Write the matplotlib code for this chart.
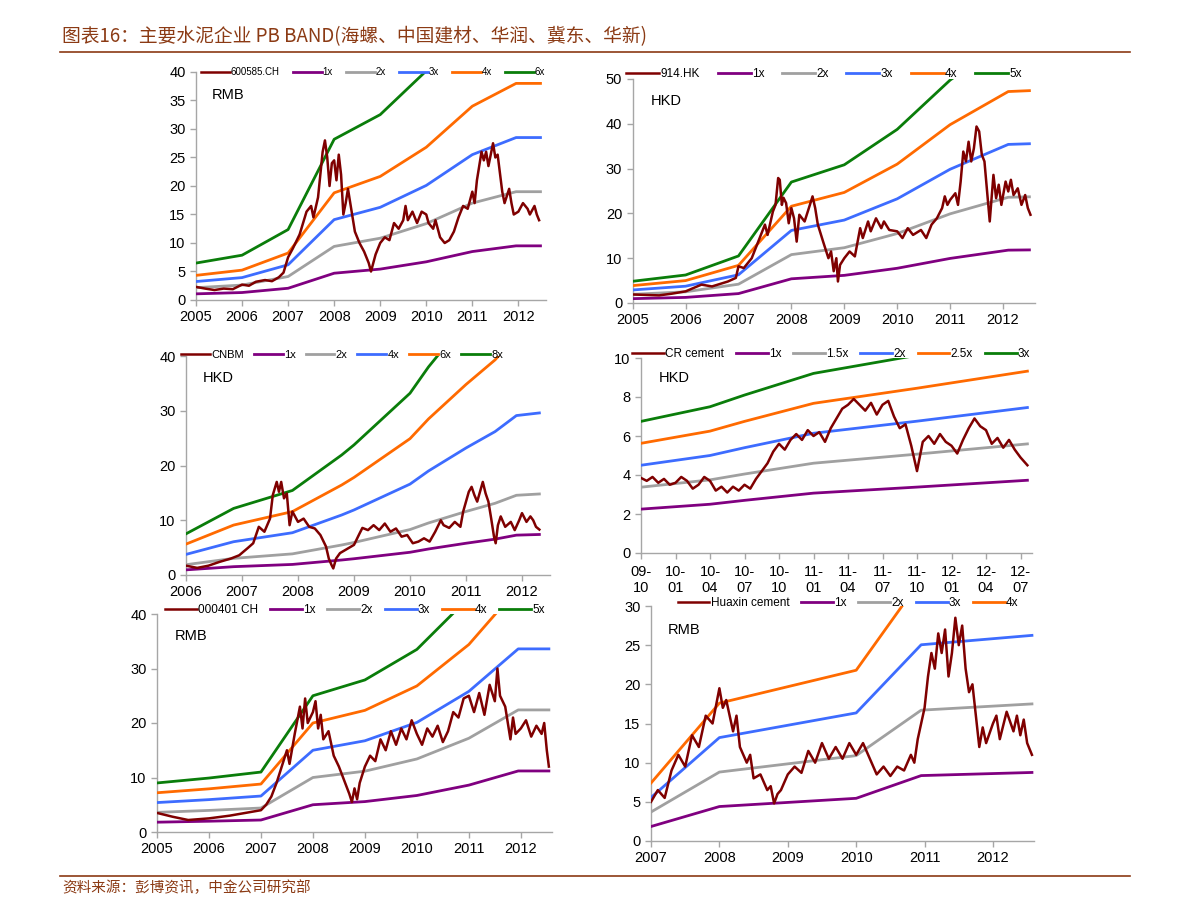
import matplotlib
matplotlib.use("Agg")
import matplotlib.pyplot as plt
import numpy as np

plt.rcParams['font.family'] = ['Liberation Sans', 'Noto Sans CJK SC', 'DejaVu Sans']

W, H = 1191, 915
BROWN = '#8b3a14'
C_PRICE = '#7f0000'
C_BAND = ['#800080', '#a0a0a0', '#3d6cff', '#ff6a00', '#0a7d0a']

title = "图表16：主要水泥企业 PB BAND(海螺、中国建材、华润、冀东、华新)"
source = "资料来源：彭博资讯，中金公司研究部"

# ---- 600585.CH (海螺) ----
conch_bv_t = [2005.0, 2006.0, 2007.0, 2008.0, 2009.0, 2010.0, 2011.0, 2011.95, 2012.48]
conch_bv = [1.08, 1.31, 2.06, 4.7, 5.42, 6.7, 8.5, 9.5, 9.5]
conch_mult = [1, 2, 3, 4, 6]
conch_labels = ['600585.CH', '1x', '2x', '3x', '4x', '6x']
conch_t = [2005.0, 2005.2, 2005.4, 2005.6, 2005.8, 2006.0, 2006.15, 2006.3, 2006.5, 2006.65, 2006.8,
           2006.9, 2007.0, 2007.1, 2007.25, 2007.4, 2007.5, 2007.55, 2007.65, 2007.75, 2007.8, 2007.85,
           2007.9, 2007.95, 2008.0, 2008.05, 2008.1, 2008.15, 2008.2, 2008.25, 2008.3, 2008.35, 2008.45,
           2008.55, 2008.65, 2008.75, 2008.8, 2008.85, 2008.9, 2009.0, 2009.1, 2009.2, 2009.3, 2009.4,
           2009.5, 2009.55, 2009.6, 2009.7, 2009.8, 2009.9, 2010.0, 2010.05, 2010.15, 2010.2, 2010.3,
           2010.4, 2010.5, 2010.6, 2010.7, 2010.8, 2010.9, 2011.0, 2011.05, 2011.1, 2011.2, 2011.25,
           2011.3, 2011.35, 2011.45, 2011.5, 2011.55, 2011.65, 2011.7, 2011.8, 2011.85, 2011.9, 2012.0,
           2012.1, 2012.2, 2012.25, 2012.35, 2012.4, 2012.45]
conch_px = [2.3, 2.0, 1.75, 2.0, 1.9, 2.7, 2.5, 3.2, 3.5, 3.3, 4.0,
            4.8, 7.5, 9.0, 11.5, 15.5, 16.5, 14.5, 18.0, 26.0, 28.0, 25.0,
            20.0, 24.0, 24.5, 21.0, 25.5, 22.0, 15.0, 17.0, 19.5, 17.0, 12.0,
            10.0, 8.5, 6.5, 5.0, 6.5, 8.0, 10.0, 11.0, 10.5, 13.5, 12.5,
            14.0, 16.5, 14.0, 15.5, 13.5, 15.5, 15.0, 13.5, 12.5, 14.0, 11.0,
            10.0, 10.5, 12.0, 14.5, 16.5, 16.0, 19.0, 17.0, 21.0, 26.0, 24.5,
            26.0, 23.5, 27.5, 25.0, 25.5, 19.0, 17.0, 19.5, 17.0, 15.0, 15.5,
            17.0, 16.0, 15.0, 16.5, 15.0, 14.0]

# ---- 914.HK (海螺 H) ----
conch_h_bv_t = [2005.0, 2006.0, 2007.0, 2008.0, 2009.0, 2010.0, 2011.0, 2012.1, 2012.5]
conch_h_bv = [0.97, 1.25, 2.1, 5.4, 6.17, 7.75, 9.95, 11.8, 11.85]
conch_h_mult = [1, 2, 3, 4, 5]
conch_h_labels = ['914.HK', '1x', '2x', '3x', '4x', '5x']
conch_h_t = [2005.0, 2005.25, 2005.5, 2005.75, 2006.0, 2006.3, 2006.5, 2006.8, 2006.95, 2007.0, 2007.1,
             2007.25, 2007.4, 2007.5, 2007.55, 2007.65, 2007.7, 2007.75, 2007.78, 2007.82, 2007.85,
             2007.9, 2007.95, 2008.0, 2008.05, 2008.1, 2008.15, 2008.25, 2008.35, 2008.4, 2008.45,
             2008.5, 2008.6, 2008.7, 2008.75, 2008.8, 2008.85, 2008.88, 2008.92, 2009.0, 2009.1, 2009.2,
             2009.3, 2009.35, 2009.45, 2009.5, 2009.6, 2009.7, 2009.75, 2009.85, 2010.0, 2010.1, 2010.2,
             2010.3, 2010.45, 2010.55, 2010.65, 2010.75, 2010.85, 2010.9, 2010.95, 2011.0, 2011.1,
             2011.15, 2011.2, 2011.25, 2011.3, 2011.35, 2011.4, 2011.45, 2011.5, 2011.55, 2011.6,
             2011.65, 2011.7, 2011.75, 2011.78, 2011.82, 2011.87, 2011.92, 2011.97, 2012.05, 2012.1,
             2012.15, 2012.2, 2012.28, 2012.35, 2012.42, 2012.47, 2012.52]
conch_h_px = [1.9, 1.8, 1.7, 2.1, 2.6, 4.1, 3.7, 4.8, 5.6, 8.2, 7.8,
              10.0, 14.5, 17.5, 15.2, 20.4, 21.9, 27.9, 27.5, 21.9, 23.5,
              22.3, 17.8, 21.2, 18.9, 13.7, 19.7, 18.2, 21.9, 23.8, 21.2,
              17.5, 13.7, 10.0, 11.5, 7.1, 10.0, 4.8, 8.5, 10.0, 11.5, 10.4,
              16.7, 14.5, 18.2, 16.0, 18.9, 16.7, 18.2, 16.3, 16.0, 14.5, 16.7,
              15.2, 16.3, 14.5, 17.5, 18.9, 21.2, 23.8, 21.9, 23.0, 24.5,
              21.9, 27.1, 33.8, 31.6, 36.0, 31.6, 34.5, 39.4, 38.3, 33.1,
              31.6, 24.9, 18.2, 22.7, 28.6, 23.4, 26.4, 21.9, 27.1, 24.9,
              27.5, 24.1, 25.6, 21.9, 24.1, 21.2, 19.7]

# ---- CNBM (中国建材) ----
cnbm_bv_t = [2006.0, 2006.85, 2007.9, 2008.78, 2009.0, 2010.0, 2010.33, 2011.0, 2011.52, 2011.9, 2012.31]
cnbm_bv = [0.94, 1.52, 1.93, 2.74, 2.97, 4.15, 4.75, 5.8, 6.55, 7.28, 7.4]
cnbm_mult = [1, 2, 4, 6, 8]
cnbm_labels = ['CNBM', '1x', '2x', '4x', '6x', '8x']
cnbm_t = [2006.0, 2006.2, 2006.4, 2006.6, 2006.8, 2006.95, 2007.1, 2007.2, 2007.3, 2007.4, 2007.5,
          2007.55, 2007.62, 2007.66, 2007.7, 2007.75, 2007.8, 2007.85, 2007.9, 2008.0, 2008.1, 2008.2,
          2008.3, 2008.4, 2008.5, 2008.55, 2008.6, 2008.63, 2008.68, 2008.75, 2008.85, 2009.0, 2009.1,
          2009.15, 2009.25, 2009.35, 2009.45, 2009.55, 2009.65, 2009.75, 2009.85, 2009.95, 2010.05,
          2010.15, 2010.25, 2010.35, 2010.45, 2010.55, 2010.6, 2010.7, 2010.8, 2010.9, 2010.95, 2011.0,
          2011.05, 2011.1, 2011.15, 2011.2, 2011.25, 2011.3, 2011.35, 2011.4, 2011.45, 2011.5, 2011.53,
          2011.57, 2011.62, 2011.7, 2011.8, 2011.87, 2011.95, 2012.0, 2012.08, 2012.15, 2012.2, 2012.25,
          2012.31]
cnbm_px = [1.7, 1.3, 1.7, 2.4, 3.0, 3.6, 4.9, 5.8, 8.8, 7.9, 10.3,
           14.6, 17.0, 15.2, 17.0, 14.0, 14.9, 9.1, 11.6, 9.7, 10.3, 8.8,
           8.5, 7.3, 5.2, 3.0, 1.8, 1.2, 3.0, 4.0, 4.6, 5.5, 7.6,
           8.6, 8.2, 9.1, 8.2, 9.4, 7.9, 8.5, 7.0, 7.3, 5.8,
           6.1, 6.7, 6.1, 7.9, 10.0, 9.1, 8.6, 9.7, 8.8, 11.6, 13.4,
           15.2, 16.1, 14.6, 13.4, 15.2, 17.0, 14.9, 13.4, 10.3, 7.0, 5.8,
           9.1, 10.7, 8.8, 9.7, 8.2, 10.0, 11.3, 9.7, 10.7, 10.0, 8.8,
           8.3]

# ---- CR cement (华润), months since 2009-10 ----
cr_bv_t = [0, 6, 9, 15, 24, 33.6]
cr_bv = [2.25, 2.5, 2.7, 3.07, 3.38, 3.73]
cr_mult = [1, 1.5, 2, 2.5, 3]
cr_labels = ['CR cement', '1x', '1.5x', '2x', '2.5x', '3x']
cr_ticks = ['09-\n10', '10-\n01', '10-\n04', '10-\n07', '10-\n10', '11-\n01', '11-\n04', '11-\n07',
            '11-\n10', '12-\n01', '12-\n04', '12-\n07']
cr_t = [0, 0.5, 1, 1.5, 2, 2.5, 3, 3.5, 4, 4.5, 5, 5.5, 6, 6.5, 7, 7.5, 8, 8.5, 9, 9.5, 10, 10.5,
        11, 11.5, 12, 12.5, 13, 13.5, 14, 14.5, 15, 15.5, 16, 16.5, 17, 17.5, 18, 18.5, 19, 19.5,
        20, 20.5, 21, 21.5, 22, 22.5, 23, 23.5, 24, 24.5, 25, 25.5, 26, 26.5, 27, 27.5, 28, 28.5,
        29, 29.5, 30, 30.5, 31, 31.5, 32, 32.5, 33, 33.6]
cr_px = [3.85, 3.7, 3.9, 3.6, 3.8, 3.5, 3.6, 3.9, 3.7, 3.3, 3.5, 3.9, 3.7, 3.2, 3.4, 3.1, 3.4, 3.2,
         3.5, 3.3, 3.8, 4.2, 4.6, 5.2, 5.6, 5.3, 5.8, 6.1, 5.8, 6.3, 6.0, 6.2, 5.7, 6.4, 6.9, 7.4,
         7.6, 7.9, 7.6, 7.3, 7.7, 7.1, 7.6, 7.8, 7.0, 6.4, 6.6, 5.5, 4.2, 5.7, 6.0, 5.6, 6.1, 5.7,
         5.5, 5.1, 5.8, 6.4, 6.9, 6.5, 6.3, 5.6, 5.9, 5.4, 5.8, 5.3, 4.9, 4.5]

# ---- 000401 CH (冀东) ----
jd_bv_t = [2005.0, 2006.0, 2007.0, 2008.0, 2009.0, 2010.0, 2011.0, 2011.95, 2012.54]
jd_bv = [1.8, 1.98, 2.2, 5.0, 5.58, 6.7, 8.6, 11.2, 11.2]
jd_mult = [1, 2, 3, 4, 5]
jd_labels = ['000401 CH', '1x', '2x', '3x', '4x', '5x']
jd_t = [2005.0, 2005.3, 2005.6, 2006.0, 2006.4, 2006.7, 2007.0, 2007.1, 2007.2, 2007.3, 2007.4,
        2007.5, 2007.55, 2007.65, 2007.75, 2007.8, 2007.85, 2007.9, 2008.0, 2008.05, 2008.1, 2008.15,
        2008.2, 2008.3, 2008.4, 2008.5, 2008.6, 2008.7, 2008.75, 2008.8, 2008.85, 2008.9, 2009.0,
        2009.1, 2009.2, 2009.3, 2009.4, 2009.5, 2009.6, 2009.7, 2009.8, 2009.9, 2010.0, 2010.1,
        2010.2, 2010.3, 2010.4, 2010.5, 2010.6, 2010.7, 2010.8, 2010.9, 2011.0, 2011.1, 2011.2,
        2011.3, 2011.4, 2011.5, 2011.55, 2011.6, 2011.7, 2011.8, 2011.85, 2011.9, 2012.0, 2012.1,
        2012.2, 2012.3, 2012.4, 2012.45, 2012.5, 2012.54]
jd_px = [3.5, 2.8, 2.2, 2.5, 3.0, 3.5, 4.0, 5.0, 6.5, 9.0, 12.0,
         15.0, 12.5, 18.0, 23.0, 19.0, 24.5, 20.0, 22.0, 24.0, 19.0, 21.5,
         17.0, 18.5, 14.0, 12.0, 9.5, 7.0, 5.5, 8.0, 6.0, 9.0, 12.0,
         14.0, 13.0, 17.0, 15.0, 18.5, 16.0, 19.0, 17.0, 20.5, 18.0, 16.0,
         19.0, 17.5, 19.5, 16.5, 18.5, 22.0, 21.0, 24.5, 25.0, 22.0, 25.5,
         21.5, 27.0, 24.0, 30.0, 25.0, 23.0, 17.0, 21.0, 18.0, 19.0, 20.5,
         17.5, 19.5, 18.0, 20.0, 15.0, 12.0]

# ---- Huaxin cement (华新) ----
hx_bv_t = [2007.0, 2008.0, 2010.0, 2010.95, 2012.57]
hx_bv = [1.85, 4.4, 5.45, 8.35, 8.75]
hx_mult = [1, 2, 3, 4]
hx_labels = ['Huaxin cement', '1x', '2x', '3x', '4x']
hx_t = [2007.0, 2007.1, 2007.2, 2007.3, 2007.4, 2007.5, 2007.6, 2007.7, 2007.8, 2007.9, 2008.0,
        2008.05, 2008.1, 2008.2, 2008.25, 2008.3, 2008.4, 2008.45, 2008.5, 2008.6, 2008.7, 2008.75,
        2008.8, 2008.85, 2008.9, 2009.0, 2009.1, 2009.2, 2009.3, 2009.4, 2009.5, 2009.6, 2009.7,
        2009.8, 2009.9, 2010.0, 2010.1, 2010.2, 2010.3, 2010.4, 2010.5, 2010.6, 2010.7, 2010.8,
        2010.85, 2010.9, 2011.0, 2011.05, 2011.1, 2011.15, 2011.2, 2011.25, 2011.3, 2011.35, 2011.4,
        2011.45, 2011.5, 2011.55, 2011.6, 2011.65, 2011.7, 2011.75, 2011.8, 2011.85, 2011.9, 2012.0,
        2012.05, 2012.1, 2012.2, 2012.3, 2012.35, 2012.4, 2012.45, 2012.5, 2012.57]
hx_px = [5.0, 6.5, 5.5, 9.0, 11.0, 9.5, 13.5, 12.0, 16.0, 15.0, 19.5,
         17.0, 18.0, 14.0, 16.0, 12.0, 10.0, 11.0, 8.0, 8.5, 6.5, 7.0,
         4.8, 6.0, 6.5, 8.5, 9.5, 8.7, 11.5, 10.0, 12.5, 10.5, 12.0,
         10.5, 12.5, 11.0, 12.5, 10.5, 8.5, 9.5, 8.3, 9.5, 9.0, 11.0,
         10.0, 13.0, 17.0, 21.0, 24.0, 22.0, 26.5, 24.0, 27.0, 21.0, 24.0,
         28.5, 25.0, 27.5, 22.0, 19.0, 20.0, 16.0, 12.0, 14.5, 12.5, 15.0,
         16.0, 13.0, 16.5, 14.0, 16.0, 13.5, 15.5, 12.5, 11.0]


def add_axes(fig, left, right, top, bottom):
    return fig.add_axes([left / W, 1 - bottom / H, (right - left) / W, (bottom - top) / H])


def style_axes(ax):
    for s in ['top', 'right']:
        ax.spines[s].set_visible(False)
    for s in ['left', 'bottom']:
        ax.spines[s].set_color('#a6a6a6')
        ax.spines[s].set_linewidth(1)
    ax.tick_params(axis='both', colors='#a6a6a6', labelcolor='black', labelsize=10.5,
                   length=4, width=1, direction='out')
    ax.patch.set_alpha(0)


def band_panel(ax, px_t, px, bv_t, bv, mult, labels, cur, leg_xy, leg_fs, colsp, hlen):
    lines = [ax.plot(px_t, px, color=C_PRICE, lw=1.8, zorder=5)[0]]
    for i, m in enumerate(mult):
        ln, = ax.plot(bv_t, np.array(bv) * m, color=C_BAND[i], lw=2.0, zorder=3,
                      solid_joinstyle='round')
        lines.append(ln)
    ax.text(0.045, 0.9, cur, transform=ax.transAxes, fontsize=10.5, va='center')
    ax.legend(lines, labels, loc='center', ncol=len(labels), frameon=False,
              bbox_to_anchor=(leg_xy[0] / W, 1 - leg_xy[1] / H), bbox_transform=ax.figure.transFigure,
              fontsize=leg_fs, handlelength=hlen, handletextpad=0.1, columnspacing=colsp,
              borderaxespad=0, borderpad=0)
    style_axes(ax)


fig = plt.figure(figsize=(W / 100, H / 100), dpi=100)

# title and footer
fig.text(62 / W, 1 - 37 / H, title, fontsize=13.5, color=BROWN, style='italic', va='center',
         family=['Noto Sans CJK SC', 'DejaVu Sans'])
fig.add_artist(plt.Line2D([60 / W, 1130 / W], [1 - 52 / H, 1 - 52 / H], color=BROWN, lw=1.2))
fig.add_artist(plt.Line2D([60 / W, 1130 / W], [1 - 876 / H, 1 - 876 / H], color=BROWN, lw=1.2))
fig.text(62 / W, 1 - 888 / H, source, fontsize=10.5, color=BROWN, style='italic', va='center',
         family=['Noto Sans CJK SC', 'DejaVu Sans'])

years = list(range(2005, 2013))

# panel 1
ax1 = add_axes(fig, 196, 546, 72, 300)
band_panel(ax1, conch_t, conch_px, conch_bv_t, conch_bv, conch_mult, conch_labels, 'RMB',
           (373, 72), 7, 1.3, 3.0)
ax1.set_xlim(2005, 2012.6)
ax1.set_ylim(0, 40)
ax1.set_yticks(range(0, 41, 5))
ax1.set_xticks(years)

# panel 2
ax2 = add_axes(fig, 632.7, 1034.7, 79, 303)
band_panel(ax2, conch_h_t, conch_h_px, conch_h_bv_t, conch_h_bv, conch_h_mult, conch_h_labels, 'HKD',
           (824, 74), 8.5, 1.5, 2.8)
ax2.set_xlim(2005, 2012.6)
ax2.set_ylim(0, 50)
ax2.set_yticks(range(0, 51, 10))
ax2.set_xticks(years)

# panel 3
ax3 = add_axes(fig, 186, 550, 356, 575)
band_panel(ax3, cnbm_t, cnbm_px, cnbm_bv_t, cnbm_bv, cnbm_mult, cnbm_labels, 'HKD',
           (342, 355), 8, 0.9, 2.6)
ax3.set_xlim(2006, 2012.5)
ax3.set_ylim(0, 40)
ax3.set_yticks(range(0, 41, 10))
ax3.set_xticks(range(2006, 2013))

# panel 4
ax4 = add_axes(fig, 641, 1032, 358, 553)
band_panel(ax4, cr_t, cr_px, cr_bv_t, cr_bv, cr_mult, cr_labels, 'HKD',
           (831, 354), 8.5, 1.0, 2.7)
ax4.set_xlim(0, 34)
ax4.set_ylim(0, 10)
ax4.set_yticks(range(0, 11, 2))
ax4.set_xticks(range(0, 34, 3))
ax4.set_xticklabels(cr_ticks, linespacing=1.15)
ax4.tick_params(axis='x', pad=5)

# panel 5
ax5 = add_axes(fig, 157, 552, 614, 832)
band_panel(ax5, jd_t, jd_px, jd_bv_t, jd_bv, jd_mult, jd_labels, 'RMB',
           (355, 610), 8.5, 1.0, 2.7)
ax5.set_xlim(2005, 2012.6)
ax5.set_ylim(0, 40)
ax5.set_yticks(range(0, 41, 10))
ax5.set_xticks(years)

# panel 6
ax6 = add_axes(fig, 651, 1034, 606, 841)
band_panel(ax6, hx_t, hx_px, hx_bv_t, hx_bv, hx_mult, hx_labels, 'RMB',
           (848, 603), 8.5, 1.0, 2.7)
ax6.set_xlim(2007, 2012.6)
ax6.set_ylim(0, 30)
ax6.set_yticks(range(0, 31, 5))
ax6.set_xticks(range(2007, 2013))

fig.savefig('out.png', dpi=100)
